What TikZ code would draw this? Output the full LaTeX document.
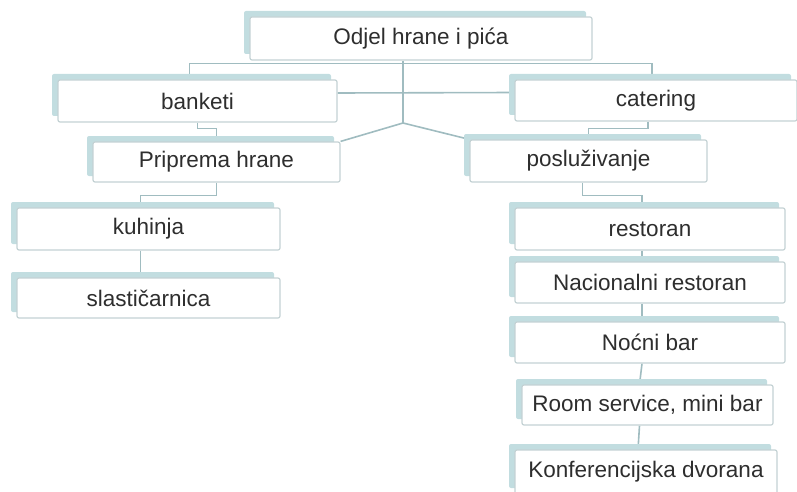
\documentclass[tikz,border=0pt]{standalone}
\usepackage{fontspec}
\setmainfont{Liberation Sans}
\usetikzlibrary{shadows,backgrounds}
\definecolor{shadowblue}{RGB}{194,221,224}
\definecolor{boxline}{RGB}{196,210,212}
\definecolor{linkblue}{RGB}{160,188,192}
\tikzset{
  orgbox/.style={draw=boxline, line width=1.2pt, fill=white, rounded corners=2pt, inner sep=0pt,
    font=\fontsize{22.5}{26}\selectfont, text=black!82,
    general shadow={fill=shadowblue, shadow xshift=-6pt, shadow yshift=6pt}},
  link/.style={draw=linkblue, line width=1.6pt}
}

\begin{document}
\begin{tikzpicture}[x=1pt,y=-1pt]
\useasboundingbox (0,0) rectangle (797,492);
% top
\node[orgbox, minimum width=342pt, minimum height=43pt] (odjel) at (421,38.5) {Odjel hrane i pića};
\coordinate (hub) at (403,123);
% second level
\node[orgbox, minimum width=279pt, minimum height=42pt] (banketi) at (197.5,101) {banketi};
\node[orgbox, minimum width=282pt, minimum height=41pt] (catering) at (656,100.5) {catering};
\node[orgbox, minimum width=247pt, minimum height=40pt] (prip) at (216.5,162) {Priprema hrane};
\node[orgbox, minimum width=237pt, minimum height=42pt] (posl) at (588.5,161) {posluživanje};
% left branch
\node[orgbox, minimum width=263pt, minimum height=42pt] (kuh) at (148.5,229) {kuhinja};
\node[orgbox, minimum width=263pt, minimum height=40pt] (slast) at (148.5,298) {slastičarnica};
% right branch
\node[orgbox, minimum width=270pt, minimum height=42pt] (rest) at (650,229) {restoran};
\node[orgbox, minimum width=270pt, minimum height=41pt] (nac) at (650,282.5) {Nacionalni restoran};
\node[orgbox, minimum width=270pt, minimum height=41pt] (noc) at (650,342.5) {Noćni bar};
\node[orgbox, minimum width=251pt, minimum height=40pt] (room) at (647.5,405) {Room service, mini bar};
\node[orgbox, minimum width=262pt, minimum height=44pt] (konf) at (646,472) {Konferencijska dvorana};

\begin{scope}[on background layer]
\draw[link] (odjel.south -| hub) -- (hub);
\draw[link] (hub) -- (prip.north east);
\draw[link] (hub) -- (posl.north west);
\draw[link] ([yshift=8pt]banketi.east) -- ([yshift=8pt]catering.west);
\draw[link] ([xshift=-8pt]banketi.north) -- ++(0,-16) -| ([xshift=-4pt]catering.north);
\draw[link] (banketi.south) -- ++(0,6) -| (prip.north);
\draw[link] ([xshift=-8pt]catering.south) -- ++(0,7) -| (posl.north);
\draw[link] (prip.south) -- ++(0,13) -| ([xshift=-8pt]kuh.north);
\draw[link] ([xshift=-8pt]kuh.south) -- ([xshift=-8pt]slast.north);
\draw[link] ([xshift=-6pt]posl.south) -- ++(0,13) -| ([xshift=-8pt]rest.north);
\foreach \a/\b in {rest/nac,nac/noc,noc/room,room/konf}
  \draw[link] ([xshift=-8pt]\a.south) -- ([xshift=-8pt]\b.north);
\end{scope}
\end{tikzpicture}
\end{document}
